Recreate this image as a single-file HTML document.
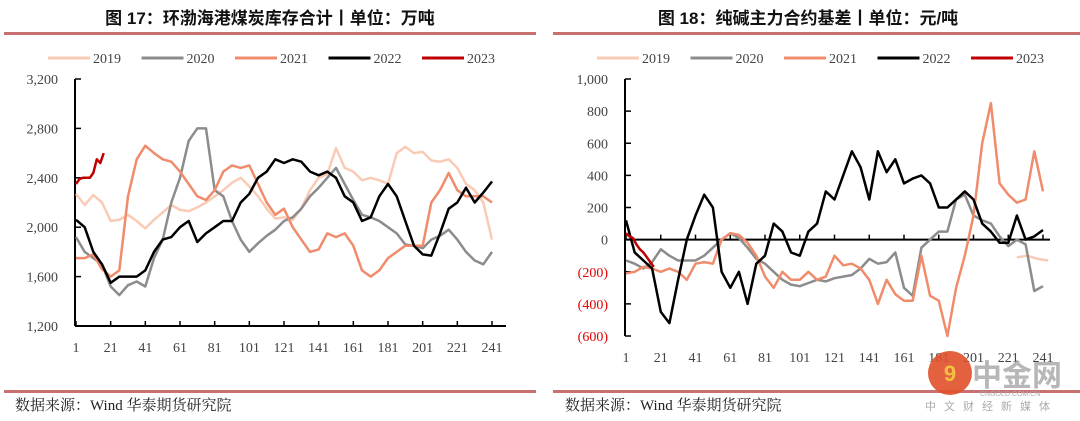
<!DOCTYPE html>
<html><head><meta charset="utf-8"><style>
body{margin:0;background:#fff;width:1080px;height:421px;overflow:hidden}
svg{display:block}
</style></head><body>
<svg id="s" width="1080" height="421" xmlns="http://www.w3.org/2000/svg">
<g font-family="'Liberation Sans','Noto Sans CJK SC',sans-serif" font-weight="bold" font-size="17" fill="#111">
<text x="270" y="24" text-anchor="middle">图 17：环渤海港煤炭库存合计丨单位：万吨</text>
<text x="808" y="24" text-anchor="middle">图 18：纯碱主力合约基差丨单位：元/吨</text>
</g>
<rect x="4" y="32" width="532" height="3" fill="#c97070"/>
<rect x="553" y="32" width="527" height="3" fill="#c97070"/>
<rect x="4" y="390" width="532" height="3" fill="#c97070"/>
<rect x="553" y="390" width="527" height="3" fill="#c97070"/>
<g font-family="'Liberation Serif','Noto Serif CJK SC',serif" font-size="15" fill="#222">
<text x="15" y="410">数据来源：Wind 华泰期货研究院</text>
<text x="565" y="410">数据来源：Wind 华泰期货研究院</text>
</g>
<g id="c1"></g>
<g id="c2"></g>
<g>
<circle cx="950" cy="373" r="22" fill="#e0502a" opacity="0.9"/>
<text x="950" y="381" text-anchor="middle" font-size="22" fill="#f5c040" font-family="'Liberation Sans',sans-serif" font-weight="bold">9</text>
<text x="972" y="386" font-size="30" fill="#999" opacity="0.7" font-weight="bold" font-family="'Liberation Sans','Noto Sans CJK SC',sans-serif">中金网</text>
<text x="980" y="396" font-size="7" fill="#aaa" font-family="'Liberation Sans',sans-serif">CNGOLD.COM.CN</text>
<text x="925" y="410" font-size="11" fill="#aaa" letter-spacing="8" font-family="'Noto Sans CJK SC',sans-serif">中文财经新媒体</text>
</g>
</svg>
<script>
const years=['2019','2020','2021','2022','2023'];
const colors=['#f9cbb5','#8c8c8c','#f08c6c','#000000','#c00000'];
const xTicks=[1,21,41,61,81,101,121,141,161,181,201,221,241];
// Chart 1 data (every 5 days from day 1; 2023 every 2 days)
const c1y2019=[2270,2180,2260,2200,2050,2060,2100,2050,1990,2060,2120,2180,2140,2130,2160,2200,2250,2300,2360,2400,2330,2250,2150,2070,2080,2060,2150,2300,2400,2430,2640,2480,2450,2380,2400,2380,2350,2600,2650,2600,2610,2540,2530,2550,2480,2350,2300,2200,1900];
const c1y2020=[1920,1800,1750,1700,1520,1450,1530,1560,1520,1750,1900,2200,2400,2700,2800,2800,2300,2250,2050,1900,1800,1870,1930,1980,2050,2080,2150,2250,2320,2400,2480,2350,2220,2100,2080,2050,2000,1950,1860,1850,1830,1900,1930,1980,1900,1800,1730,1700,1800];
const c1y2021=[1750,1750,1780,1660,1600,1650,2250,2550,2660,2600,2550,2530,2450,2350,2250,2220,2300,2450,2500,2480,2500,2350,2200,2100,2150,2000,1900,1800,1820,1950,1920,1950,1850,1650,1600,1650,1750,1800,1850,1850,1850,2200,2300,2440,2300,2250,2250,2250,2200];
const c1y2022=[2060,2000,1800,1700,1550,1600,1600,1600,1650,1800,1900,1920,2000,2050,1880,1950,2000,2050,2050,2200,2270,2400,2450,2550,2520,2550,2530,2450,2420,2450,2400,2250,2200,2050,2080,2250,2350,2250,2050,1850,1780,1770,1950,2150,2200,2320,2200,2280,2370];
const c1y2023=[2350,2390,2400,2400,2400,2440,2550,2520,2600];
const c1yTicks=[1200,1600,2000,2400,2800,3200];
const c1yLabels=['1,200','1,600','2,000','2,400','2,800','3,200'];
// Chart 2 data
const c2y2019=[-110,-100,-120,-130];
const c2y2020=[-130,-150,-180,-140,-60,-100,-130,-130,-130,-100,-50,0,40,10,-50,-120,-150,-200,-250,-280,-290,-270,-250,-260,-240,-230,-220,-180,-120,-150,-140,-80,-300,-350,-50,0,50,50,250,280,150,120,100,20,-40,0,-30,-320,-290];
const c2y2021=[-210,-200,-170,-180,-200,-180,-200,-250,-150,-140,-150,0,40,30,-20,-100,-230,-300,-200,-250,-250,-200,-250,-230,-100,-160,-150,-180,-250,-400,-250,-340,-380,-380,-100,-350,-380,-600,-300,-100,150,600,850,350,280,230,250,550,300];
const c2y2022=[120,-80,-130,-180,-450,-520,-250,0,150,280,200,-200,-300,-200,-400,-150,-100,100,50,-80,-100,50,100,300,250,400,550,450,250,550,420,500,350,380,400,350,200,200,250,300,250,100,50,-20,-20,150,0,20,60];
const c2y2023=[40,20,10,-30,-60,-80,-110,-140,-170];
const c2yTicks=[-600,-400,-200,0,200,400,600,800,1000];
const c2yLabels=['(600)','(400)','(200)','0','200','400','600','800','1,000'];

const NS='http://www.w3.org/2000/svg';
function mk(tag,attrs,parent){const e=document.createElementNS(NS,tag);for(const k in attrs)e.setAttribute(k,attrs[k]);parent.appendChild(e);return e;}

function chart(g,cfg){
  const sx=d=>cfg.x0+(d-1)*(cfg.x241-cfg.x0)/240;
  const sy=v=>cfg.yTop+(cfg.vMax-v)*(cfg.yBot-cfg.yTop)/(cfg.vMax-cfg.vMin);
  // legend
  years.forEach((y,i)=>{
    const lx=cfg.legX+i*93.5;
    const l=mk('line',{x1:lx,y1:58,x2:lx+42,y2:58,stroke:colors[i],'stroke-width':3},g);
    
    
    const t=mk('text',{x:lx+45,y:63,'font-size':14,fill:'#444','font-family':"'Liberation Serif',serif"},g);
    t.textContent=y;
    
    
  });
  // y labels
  cfg.yTicks.forEach((v,i)=>{
    const t=mk('text',{x:cfg.x0-18,y:sy(v)+5,'text-anchor':'end','font-size':14,fill:v<0?'#e00000':'#444','font-family':"'Liberation Serif',serif"},g);
    t.textContent=cfg.yLabels[i];
    
    
    const tk=mk('line',{x1:cfg.x0-1,y1:sy(v),x2:cfg.x0+5,y2:sy(v),stroke:'#000','stroke-width':1.5},g);
    
    
  });
  xTicks.forEach(d=>{
    const t=mk('text',{x:sx(d),y:cfg.xLabY,'text-anchor':'middle','font-size':14,fill:'#444','font-family':"'Liberation Serif',serif"},g);
    t.textContent=d;
    
    
    const tk=mk('line',{x1:sx(d),y1:sy(cfg.xAxisV),x2:sx(d),y2:sy(cfg.xAxisV)-5,stroke:'#000','stroke-width':1.5},g);
    
    
  });
  const ya=mk('line',{x1:cfg.x0-1,y1:sy(cfg.vMax),x2:cfg.x0-1,y2:sy(cfg.vMin),stroke:'#000','stroke-width':2},g);
  
  
  const xa=mk('line',{x1:cfg.x0-1,y1:sy(cfg.xAxisV),x2:cfg.xEnd,y2:sy(cfg.xAxisV),stroke:'#000','stroke-width':2},g);
  
  
  cfg.series.forEach(s=>{
    const pts=s.data.map((v,i)=>sx(s.start+i*s.step).toFixed(1)+','+sy(v).toFixed(1)).join(' ');
    const p=mk('polyline',{points:pts,fill:'none',stroke:colors[s.ci],'stroke-width':s.w,'stroke-linejoin':'round'},g);
    
    
  });
}
chart(document.getElementById('c1'),{x0:76,x241:492,yTop:79,yBot:326,vMin:1200,vMax:3200,xAxisV:1200,xEnd:506,xLabY:352,legX:48,
  yTicks:c1yTicks,yLabels:c1yLabels,
  series:[{data:c1y2019,ci:0,start:1,step:5,w:2.5},{data:c1y2020,ci:1,start:1,step:5,w:2.5},{data:c1y2021,ci:2,start:1,step:5,w:2.5},{data:c1y2022,ci:3,start:1,step:5,w:2.5},{data:c1y2023,ci:4,start:1,step:2,w:2.5}]});
chart(document.getElementById('c2'),{x0:626,x241:1043,yTop:79,yBot:336,vMin:-600,vMax:1000,xAxisV:0,xEnd:1050,xLabY:362,legX:597,
  yTicks:c2yTicks,yLabels:c2yLabels,
  series:[{data:c2y2019,ci:0,start:226,step:6,w:2.5},{data:c2y2020,ci:1,start:1,step:5,w:2.5},{data:c2y2021,ci:2,start:1,step:5,w:2.5},{data:c2y2022,ci:3,start:1,step:5,w:2.5},{data:c2y2023,ci:4,start:1,step:2,w:2.5}]});
</script>
</body></html>
